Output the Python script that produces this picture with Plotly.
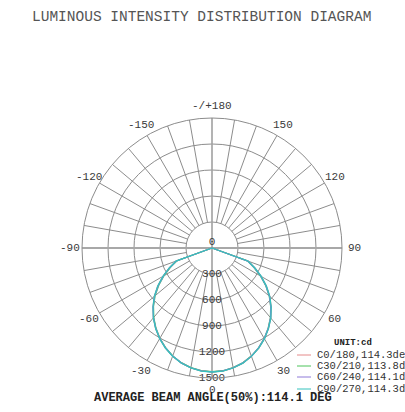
import math
import plotly.graph_objects as go

# Gamma angles (deg) for each C-plane pair; negative side is the opposite half-plane
gamma = [-90, -85, -80, -75, -70, -65, -60, -55, -50, -45, -40, -35, -30, -25, -20, -15, -10, -5,
         0, 5, 10, 15, 20, 25, 30, 35, 40, 45, 50, 55, 60, 65, 70, 75, 80, 85, 90]

# Luminous intensity (cd)
c0_180 = [0, 0, 0, 0, 440, 540, 652, 763, 868, 962, 1052, 1133, 1207, 1272, 1328, 1373, 1404, 1424,
          1430, 1425, 1405, 1375, 1330, 1275, 1210, 1135, 1055, 965, 870, 765, 655, 545, 445, 0, 0, 0, 0]
c30_210 = [0, 0, 0, 0, 430, 530, 640, 750, 858, 955, 1046, 1128, 1203, 1268, 1325, 1370, 1401, 1421,
           1428, 1422, 1402, 1372, 1327, 1271, 1205, 1130, 1049, 958, 862, 758, 646, 535, 435, 0, 0, 0, 0]
c60_240 = [0, 0, 0, 0, 438, 538, 648, 758, 864, 959, 1050, 1131, 1205, 1270, 1327, 1372, 1403, 1423,
           1429, 1423, 1403, 1373, 1328, 1272, 1206, 1132, 1051, 960, 865, 760, 650, 540, 440, 0, 0, 0, 0]
c90_270 = [0, 0, 0, 0, 442, 544, 654, 764, 869, 963, 1053, 1134, 1208, 1273, 1329, 1374, 1405, 1425,
           1431, 1426, 1406, 1376, 1331, 1276, 1211, 1136, 1056, 966, 871, 766, 656, 546, 446, 0, 0, 0, 0]

series_names = ["C0/180,114.3deg", "C30/210,113.8deg", "C60/240,114.1deg", "C90/270,114.3deg"]
series_colors = ["#e58a8a", "#4cc45a", "#8f7ad8", "#35c2bd"]

ring_values = [300, 600, 900, 1200]
ring_labels = [0, 300, 600, 900, 1200, 1500]
r_max = 1500

angle_tickvals = [0, 30, 60, 90, 120, 150, 180, 210, 240, 270, 300, 330]
angle_ticktext = ["0", "30", "60", "90", "120", "150", "-/+180", "-150", "-120", "-90", "-60", "-30"]

mono = "Liberation Mono, Courier New, monospace"
grid_col = "#8c8c8c"
label_col = "#3a3a3a"

W, H = 405, 412
cx, cy, rad = 212, 248, 130          # polar centre and radius in pixels
label_rad = 142                      # radius at which the angle labels sit

fig = go.Figure()

# 10-degree spokes, starting at the first ring
spoke_angles = [a for a in range(10, 360, 10) if a % 90 != 0]
sr, st = [], []
for a in spoke_angles:
    sr += [ring_values[0], r_max, None]
    st += [a, a, None]
fig.add_trace(go.Scatterpolar(r=sr, theta=st, mode="lines",
                              line=dict(color=grid_col, width=1), hoverinfo="skip", showlegend=False))

# main axes through the centre
fig.add_trace(go.Scatterpolar(r=[r_max, r_max], theta=[180, 0], mode="lines",
                              line=dict(color="#a0a0a0", width=1.6), hoverinfo="skip", showlegend=False))
fig.add_trace(go.Scatterpolar(r=[r_max, r_max], theta=[90, 270], mode="lines",
                              line=dict(color="#a8a8a8", width=2), hoverinfo="skip", showlegend=False))

# intensity curves
for vals, name, col in zip([c0_180, c30_210, c60_240, c90_270], series_names, series_colors):
    fig.add_trace(go.Scatterpolar(r=vals, theta=gamma, mode="lines", name=name,
                                  line=dict(color=col, width=1.3), showlegend=False))

# radial value labels along the 0-degree axis
fig.add_trace(go.Scatterpolar(r=ring_labels, theta=[0] * len(ring_labels), mode="text",
                              text=[str(v) for v in ring_labels],
                              textposition=["top center"] + ["middle center"] * (len(ring_labels) - 1),
                              textfont=dict(family=mono, size=11, color=label_col),
                              cliponaxis=False, hoverinfo="skip", showlegend=False))

fig.update_layout(
    width=W, height=H,
    margin=dict(l=0, r=0, t=0, b=0),
    paper_bgcolor="white",
    polar=dict(
        domain=dict(x=[(cx - rad) / W, (cx + rad) / W], y=[1 - (cy + rad) / H, 1 - (cy - rad) / H]),
        bgcolor="white",
        angularaxis=dict(rotation=270, direction="counterclockwise",
                         tickmode="array", tickvals=angle_tickvals, ticktext=angle_ticktext,
                         showticklabels=False, showgrid=False, ticks="",
                         showline=True, linecolor=grid_col, linewidth=1),
        radialaxis=dict(range=[0, r_max], tickmode="array", tickvals=ring_values,
                        showticklabels=False, ticks="", showline=False,
                        showgrid=True, gridcolor=grid_col, gridwidth=1),
    ),
)

# angle labels around the outer ring (0 at bottom, counter-clockwise)
for a, t in zip(angle_tickvals, angle_ticktext):
    px = cx + label_rad * math.sin(math.radians(a))
    py = cy + label_rad * math.cos(math.radians(a))
    fig.add_annotation(text=t, xref="paper", yref="paper", x=px / W, y=1 - py / H,
                       showarrow=False, xanchor="center", yanchor="middle",
                       font=dict(family=mono, size=11, color=label_col))

# title and footer
fig.add_annotation(text="LUMINOUS INTENSITY DISTRIBUTION DIAGRAM", xref="paper", yref="paper",
                   x=201 / W, y=1 - 17 / H, showarrow=False, xanchor="center", yanchor="middle",
                   font=dict(family=mono, size=14.5, color="#555555"))
fig.add_annotation(text="<b>AVERAGE BEAM ANGLE(50%):114.1 DEG</b>", xref="paper", yref="paper",
                   x=92 / W, y=1 - 398 / H, showarrow=False, xanchor="left", yanchor="middle",
                   font=dict(family=mono, size=12, color="#222222"))

# key
fig.add_annotation(text="<b>UNIT:cd</b>", xref="paper", yref="paper",
                   x=332 / W, y=1 - 343 / H, showarrow=False, xanchor="left", yanchor="middle",
                   font=dict(family=mono, size=9, color="#222222"))
row_y = [355, 366, 377, 389]
for name, col, yy in zip(series_names, series_colors, row_y):
    fig.add_shape(type="line", xref="paper", yref="paper",
                  x0=297 / W, x1=311 / W, y0=1 - yy / H, y1=1 - yy / H,
                  line=dict(color=col, width=1))
    fig.add_annotation(text=name, xref="paper", yref="paper", x=315 / W, y=1 - yy / H,
                       showarrow=False, xanchor="left", yanchor="middle",
                       font=dict(family=mono, size=10.5, color="#333333"))

fig.write_html("out.html")
